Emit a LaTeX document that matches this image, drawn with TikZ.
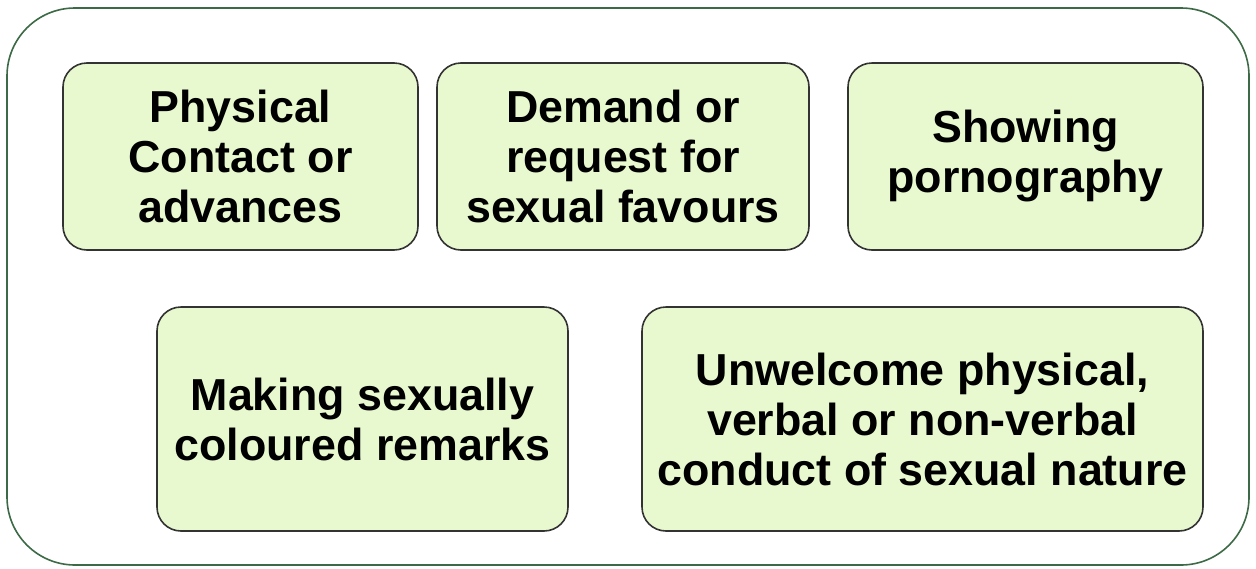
\documentclass[tikz,border=0pt]{standalone}
\usepackage{fontspec}
\setmainfont{Liberation Sans}
\begin{document}
\definecolor{boxfill}{HTML}{E8F9CF}
\definecolor{boxline}{HTML}{333333}
\definecolor{frameline}{HTML}{3C6A46}
\begin{tikzpicture}[x=1pt,y=-1pt,
  item/.style={draw=boxline, line width=1.6pt, fill=boxfill, rounded corners=24pt,
    align=center, inner sep=0pt,
    font=\bfseries\fontsize{44.8}{50}\selectfont},
]
\useasboundingbox (0,0) rectangle (1256,568);
% outer frame
\draw[frameline, line width=1.6pt, rounded corners=68pt] (7,8) rectangle (1249,565);
% top row
\node[item, minimum width=355pt, minimum height=187pt] (pc) at (240.5,156.5)
  {Physical\\Contact or\\advances};
\node[item, minimum width=372pt, minimum height=187pt] (dr) at (623,156.5)
  {Demand or\\request for\\sexual favours};
\node[item, minimum width=355pt, minimum height=187pt] (sp) at (1025.5,156.5)
  {Showing\\pornography};
% bottom row
\node[item, minimum width=411pt, minimum height=224pt] (mr) at (362.5,419)
  {Making sexually\\coloured remarks};
\node[item, minimum width=561pt, minimum height=224pt] (uc) at (922.5,419)
  {Unwelcome physical,\\verbal or non-verbal\\conduct of sexual nature};
\end{tikzpicture}
\end{document}
